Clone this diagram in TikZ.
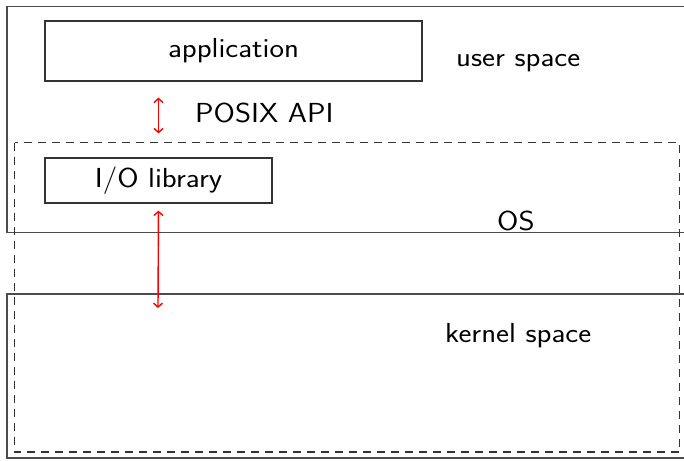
\documentclass[tikz,border=0pt]{standalone}
\usetikzlibrary{arrows.meta}
\newcommand{\wtxt}[1]{\scalebox{1.12}[1]{#1}}
\begin{document}
\begin{tikzpicture}[x=1pt,y=-1pt,
  frame/.style={draw=black!70,line width=1.4pt},
  osframe/.style={draw=black!80,line width=1.2pt,dash pattern=on 8pt off 6pt},
  boxnode/.style={draw=black!80,line width=1.2pt,inner sep=0pt,font=\fontsize{27.5}{32}\selectfont\sffamily},
  lbl/.style={inner sep=0pt,font=\fontsize{27.5}{32}\selectfont\sffamily},
  link/.style={draw=red,line width=1.4pt,{Straight Barb[length=4pt,width=9pt]}-{Straight Barb[length=4pt,width=9pt]}}]
\useasboundingbox (0,0) rectangle (684,460);
\begin{scope}
\clip (0,0) rectangle (684,460);
% user space frame
\draw[frame] (7,6.5) rectangle (700,232.5);
% kernel space frame
\draw[frame] (7,294) rectangle (700,458);
\end{scope}
% OS dashed frame
\draw[osframe] (14.5,142.5) rectangle (679.5,452);
% boxes
\node[boxnode,minimum width=377pt,minimum height=60pt] (app) at (233.5,51) {\wtxt{application}};
\node[boxnode,minimum width=227pt,minimum height=45pt] (iolib) at (158.5,180.5) {\wtxt{I/O library}};
\coordinate (kern) at (158,308);
% labels
\node[lbl,anchor=base west] (us) at (456,66.5) {\wtxt{user space}};
\node[lbl,anchor=base west] (posix) at (195,122) {\wtxt{POSIX API}};
\node[lbl,anchor=base west] (os) at (497,230.5) {\wtxt{OS}};
\node[lbl,anchor=base west] (ks) at (445,342.5) {\wtxt{kernel space}};
% arrows
\draw[link,shorten <=16pt,shorten >=24pt] (app.south -| iolib.north) -- (iolib.north);
\draw[link,shorten <=7pt] (iolib.south) -- (kern);
\end{tikzpicture}
\end{document}
